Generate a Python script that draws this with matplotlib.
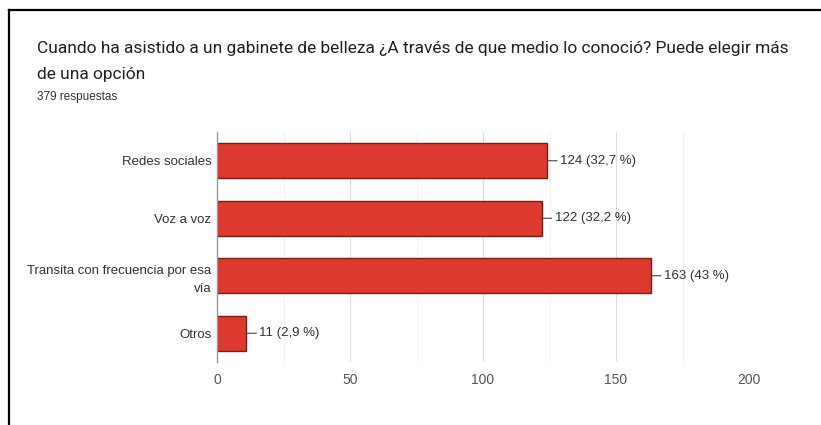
import matplotlib.pyplot as plt
from matplotlib.lines import Line2D
from matplotlib.ticker import MultipleLocator

# ------------------------------------------------------------
# Survey data
# ------------------------------------------------------------

title = ("Cuando ha asistido a un gabinete de belleza ¿A través de que medio lo conoció? "
         "Puede elegir más\nde una opción")
subtitle = "379 respuestas"

categories = [
    "Redes sociales",
    "Voz a voz",
    "Transita con frecuencia por esa\nvía",
    "Otros",
]
counts = [124, 122, 163, 11]
percents = ["32,7", "32,2", "43", "2,9"]

x_ticks = [0, 50, 100, 150, 200]

# ------------------------------------------------------------
# Figure
# ------------------------------------------------------------

W, H = 821, 425
fig = plt.figure(figsize=(W / 100, H / 100), dpi=100)
fig.patch.set_facecolor("white")

ax = fig.add_axes([217 / W, 1 - 362 / H, (749 - 217) / W, (362 - 132) / H])

ypos = list(range(len(categories)))
ax.barh(
    ypos,
    counts,
    height=0.61,
    color="#dc3a2e",
    edgecolor="#7d1c14",
    linewidth=1.0,
    zorder=3,
)

for y, c, p in zip(ypos, counts, percents):
    ax.annotate(
        f"{c} ({p} %)",
        xy=(c, y),
        xytext=(13, 0),
        textcoords="offset pixels",
        ha="left",
        va="center",
        fontsize=9.5,
        color="#333333",
        family="Liberation Sans",
        arrowprops=dict(arrowstyle="-", color="#444444", lw=0.8,
                        shrinkA=0, shrinkB=0),
        zorder=4,
    )

ax.set_xlim(0, 200)
ax.set_ylim(len(categories) - 0.5, -0.5)
ax.set_xticks(x_ticks)
ax.xaxis.set_minor_locator(MultipleLocator(25))
ax.set_yticks(ypos)
ax.set_yticklabels(categories, family="Liberation Sans", fontsize=9.5,
                   color="#333333", linespacing=1.65)

ax.grid(axis="x", which="major", color="#dddddd", lw=0.8, zorder=0)
ax.grid(axis="x", which="minor", color="#f2f2f2", lw=0.8, zorder=0)

for side in ["top", "right", "bottom"]:
    ax.spines[side].set_visible(False)
ax.spines["left"].set_color("#999999")
ax.spines["left"].set_linewidth(1.0)
ax.spines["left"].set_zorder(5)

ax.tick_params(axis="both", which="both", length=0)
ax.tick_params(axis="y", pad=4)
ax.tick_params(axis="x", pad=8, labelsize=10, labelcolor="#555555")
for lbl in ax.get_xticklabels():
    lbl.set_family("Liberation Sans")

# Title block
fig.text(37 / W, 1 - 61.5 / H, title, ha="left", va="center",
         fontsize=12.5, family="Roboto", color="#202124", linespacing=1.9)
fig.text(37 / W, 1 - 97 / H, subtitle, ha="left", va="center",
         fontsize=8.5, family="Liberation Sans", color="#333333")

# Frame lines (left and top)
fig.add_artist(Line2D([9 / W, 9 / W], [0, 1 - 10 / H], color="black",
                      lw=1.6, transform=fig.transFigure))
fig.add_artist(Line2D([9 / W, 1], [1 - 10 / H, 1 - 10 / H], color="black",
                      lw=1.6, transform=fig.transFigure))

fig.savefig("out.png", dpi=100, facecolor="white")
